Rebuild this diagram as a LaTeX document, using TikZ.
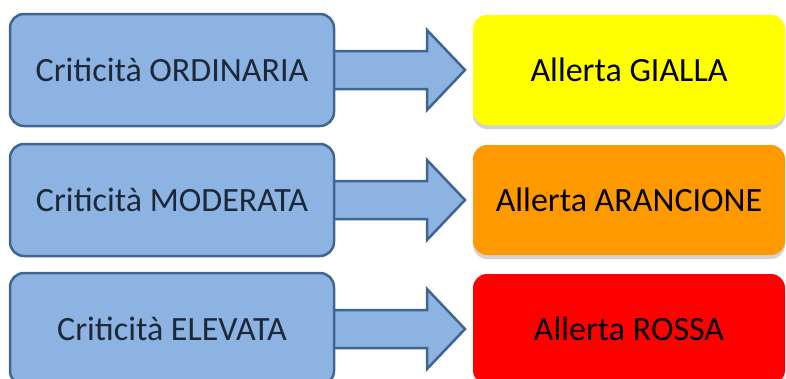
\documentclass[tikz,border=0pt]{standalone}
\usepackage{fontspec}
\setmainfont{Carlito}
\usetikzlibrary{shadows,calc}
\definecolor{boxblue}{HTML}{8DB3E2}
\definecolor{edgeblue}{HTML}{3F6592}
\definecolor{txtblue}{HTML}{1C2838}
\definecolor{alyellow}{HTML}{FFFF00}
\definecolor{alorange}{HTML}{FF9900}
\definecolor{alred}{HTML}{FF0000}
\tikzset{
  critbox/.style={draw=edgeblue, line width=2.5pt, fill=boxblue, rounded corners=14pt,
    minimum width=324pt, minimum height=112pt, text=txtblue,
    font=\fontsize{34}{38}\selectfont, inner sep=0pt},
  alertbox/.style={rounded corners=14pt, minimum width=312pt, minimum height=110pt,
    text=black, font=\fontsize{34}{38}\selectfont, inner sep=0pt,
    drop shadow={shadow xshift=0pt, shadow yshift=-4pt, opacity=0.35, fill=black!50}},
  blockarrow/.style={draw=edgeblue, line width=2.5pt, fill=boxblue, line join=miter}
}
\begin{document}
\begin{tikzpicture}[x=1pt,y=-1pt]
\useasboundingbox (0,0) rectangle (786,378);
\foreach \i/\yc/\ctext/\atext/\acol in {1/70/{Criticità ORDINARIA}/{Allerta GIALLA}/alyellow,
                                          2/200/{Criticità MODERATA}/{Allerta ARANCIONE}/alorange,
                                          3/329/{Criticità ELEVATA}/{Allerta ROSSA}/alred}{
  \node[alertbox, fill=\acol] (a\i) at (629,\yc) {\atext};
  \coordinate (s\i) at (334,\yc);
  \draw[blockarrow] ($(s\i)+(0,-19)$) -- ++(93,0) -- ++(0,-21) -- ($(s\i)+(131,0)$)
     -- ($(s\i)+(93,40)$) -- ++(0,-21) -- ($(s\i)+(0,19)$);
  \node[critbox] (c\i) at (172,\yc) {\ctext};
}
\end{tikzpicture}
\end{document}
